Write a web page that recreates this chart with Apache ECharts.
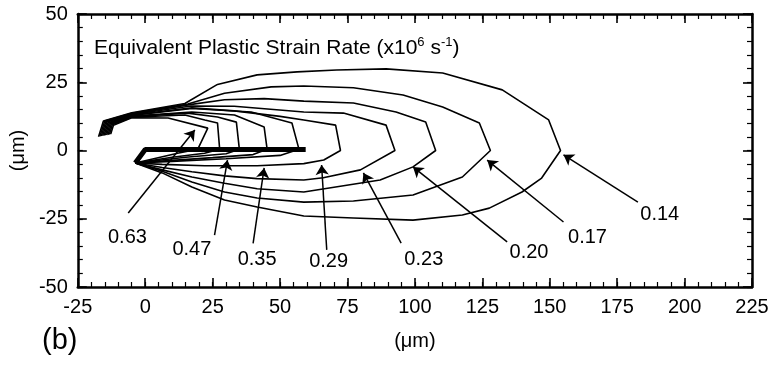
<!DOCTYPE html>
<html>
<head>
<meta charset="utf-8">
<script src="https://cdn.jsdelivr.net/npm/echarts@6/dist/echarts.min.js"></script>
<style>
  html, body { margin: 0; padding: 0; background: #fff; }
  #chart { width: 784px; height: 365px; }
</style>
</head>
<body>
<div id="chart"></div>
<script>
// 等值线数据（单位 μm），从外到内
const c014 = [[-17.3,5],[-15.5,10.8],[-5,13.8],[14.7,17.2],[26.8,24.2],[41.5,27.7],[56.3,28.8],[71,29.5],[89.3,29.9],[110.3,28.4],[132.4,22.2],[149.6,11.2],[154,0],[147,-10.1],[139.7,-15.2],[127.6,-21.1],[117.6,-23.6],[99.3,-25.5],[77.2,-24.7],[58.8,-24],[41.5,-20.7],[29.4,-18.1],[17.3,-13.4],[6.3,-8.2],[-3.7,-4.6]];
const c017 = [[-16.8,5.2],[-15,10.8],[-5,13.6],[15.8,17],[29.4,21],[46.7,23.3],[58.8,23.6],[77.2,23],[95.6,20.3],[110.3,15.9],[123.9,10.1],[128,0],[117.6,-9.7],[99.3,-16.3],[77.2,-18.5],[58.8,-18.9],[41.5,-17.4],[29.4,-15.2],[17.3,-11.5],[6.3,-7.6],[-3.7,-4.6]];
const c020 = [[-16.3,5.3],[-14.6,10.6],[-5,13.4],[16.5,16.8],[29.4,18.6],[44.1,19],[58.8,18.1],[77.2,17.4],[93,14.1],[104,10.4],[107.7,0],[99.3,-6],[87.1,-10.8],[58.8,-15.2],[41.5,-14],[29.4,-12],[17.3,-9.7],[6.3,-7.1],[-3.7,-4.6]];
const c023 = [[-15.8,5.4],[-14.2,10.4],[-5,13.2],[17,16.3],[33,16.2],[58.8,14.1],[73.5,13.7],[89.3,9.3],[92.6,0],[79.8,-7.1],[66,-10],[58.8,-10.8],[41.5,-10.3],[29.4,-9.3],[17.3,-7.8],[6.3,-6.2],[-3.7,-4.6]];
const c029 = [[-15.3,5.5],[-13.8,10.2],[-5,13],[17.3,15.6],[33,14.5],[50,12.5],[58.8,11.2],[70.6,9.3],[72.4,0],[66.2,-3.5],[58.8,-4.8],[41.5,-5.6],[22.1,-5.6],[6.3,-5.1],[-3.7,-4.6]];
const c035 = [[-14.8,5.6],[-13.4,10],[-5,12.8],[17.3,15.4],[39.3,14.1],[54.4,10.1],[57,0.5],[50,-1.8],[30,-3],[10,-4],[-3.7,-4.6]];
const c040 = [[-14.3,5.7],[-13,9.8],[-5,12.6],[17.3,14.1],[33.1,13],[44.1,8.6],[45.2,0.5],[40,-1.5],[25,-2.6],[10,-3.6],[-3.7,-4.6]];
const c047 = [[-13.8,5.8],[-12.6,9.6],[-5,12.4],[15.8,13.7],[26.8,12.3],[33.8,10.4],[34.9,0.5],[30,-1.2],[15,-2.5],[-3.7,-4.6]];
const c055 = [[-13.3,5.9],[-12.2,9.4],[-5,12.2],[14.7,13],[22.1,11.2],[26.8,10.1],[27.6,0.5],[22,-1],[10,-2.5],[-3.7,-4.6]];
const c063 = [[-12.8,6],[-11.8,9.2],[-5,12],[8.5,11.9],[23.2,8.2],[19.5,0.5],[12,-1],[-3.7,-4.6]];
const contours = [c014, c017, c020, c023, c029, c035, c040, c047, c055, c063];

// 裂纹（粗线）
const crack = [[-3.7,-4.6],[0,0.4],[59.5,0.4]];

// 标注：文字位置与箭头
const labelNames = ['0.63', '0.47', '0.35', '0.29', '0.23', '0.20', '0.17', '0.14'];
const labelPos = [[-6.6,-32],[17.3,-36.4],[41.5,-40.1],[68,-40.8],[103.3,-40.1],[142.3,-37.5],[164,-31.7],[190.8,-23.6]];
const arrowTails = [[-6.3,-22.9],[25.7,-31],[40,-34],[67.3,-36.4],[94.9,-33.9],[134.2,-33.5],[155.1,-26.2],[182.7,-18.9]];
const arrowHeads = [[18.4,7.5],[30.5,-3.5],[44.1,-6.4],[65.4,-5.3],[80.9,-8.2],[99.3,-6],[126.8,-3.5],[155.1,-1.6]];

const FONT = 'Liberation Sans, Arial, Helvetica, sans-serif';

const chart = echarts.init(document.getElementById('chart'), null, { renderer: 'canvas' });

// 主刻度轴（带框线）与次刻度轴（仅短刻度）
function makeAxis(dim, pos, major, showLabel) {
  const isX = dim === 'x';
  return {
    type: 'value', position: pos,
    min: isX ? -25 : -50, max: isX ? 225 : 50,
    interval: major ? 25 : 5,
    axisLine: { show: major, onZero: false, lineStyle: { color: '#000', width: 2.5 } },
    axisTick: { show: true, inside: true, length: major ? 9 : 5, lineStyle: { color: '#000', width: major ? 1.6 : 1.2 } },
    splitLine: { show: false },
    axisLabel: { show: showLabel, color: '#000', fontSize: 20, fontFamily: FONT, margin: 10 },
    name: showLabel ? '(μm)' : '', nameLocation: 'middle',
    nameGap: isX ? 44 : 40, nameRotate: isX ? 0 : 90,
    nameTextStyle: { color: '#000', fontSize: 20, fontFamily: FONT }
  };
}

const series = contours.map(pts => ({
  type: 'line', data: pts, showSymbol: false, smooth: false,
  lineStyle: { color: '#000', width: 1.6 }, silent: true
}));

series.push({
  type: 'line', data: crack, showSymbol: false,
  lineStyle: { color: '#000', width: 5 }, silent: true,
  markLine: {
    silent: true, symbol: ['none', 'arrow'], symbolSize: 10,
    label: { show: false },
    lineStyle: { color: '#000', width: 1.5, type: 'solid' },
    data: arrowTails.map((t, i) => [{ coord: t }, { coord: arrowHeads[i] }])
  }
});

series.push({
  type: 'scatter', symbolSize: 0, silent: true,
  itemStyle: { opacity: 1 },
  data: labelNames.map((n, i) => ({ name: n, value: labelPos[i] })),
  label: {
    show: true, position: [0, 0], align: 'center', verticalAlign: 'middle',
    formatter: '{b}', color: '#000', fontSize: 20, fontFamily: FONT
  }
});

chart.setOption({
  animation: false,
  backgroundColor: '#fff',
  grid: { left: 72, right: 32, top: 14, bottom: 78 },
  title: {
    left: 89, top: 31,
    text: '{a|Equivalent Plastic Strain Rate (x10}{s|6}{a| s}{s|-1}{a|)}',
    textStyle: {
      rich: {
        a: { fontSize: 21, fontWeight: 'normal', fontFamily: FONT, color: '#000', lineHeight: 25 },
        s: { fontSize: 13, fontWeight: 'normal', fontFamily: FONT, color: '#000', verticalAlign: 'top', lineHeight: 25, padding: [0, 0, 10, 0] }
      }
    }
  },
  graphic: [{
    type: 'text', left: 42, top: 326,
    style: { text: '(b)', fill: '#000', font: '29px ' + FONT }
  }],
  xAxis: [
    makeAxis('x', 'bottom', true, true), makeAxis('x', 'top', true, false),
    makeAxis('x', 'bottom', false, false), makeAxis('x', 'top', false, false)
  ],
  yAxis: [
    makeAxis('y', 'left', true, true), makeAxis('y', 'right', true, false),
    makeAxis('y', 'left', false, false), makeAxis('y', 'right', false, false)
  ],
  series: series
});
</script>
</body>
</html>
